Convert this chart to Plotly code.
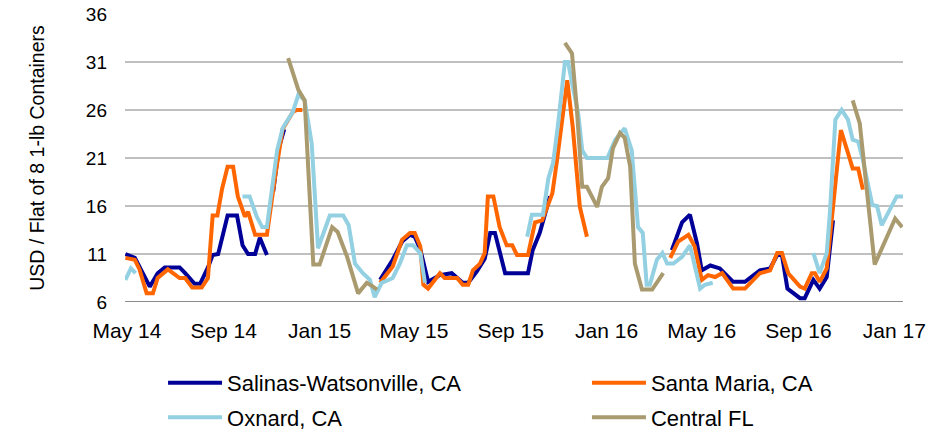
import plotly.graph_objects as go

# ---------------- data ----------------
series_names = ["Salinas-Watsonville, CA", "Santa Maria, CA", "Oxnard, CA", "Central FL"]

salinas_dates = [
    "2014-04-29", "2014-05-11", "2014-05-30", "2014-06-09", "2014-06-18", "2014-07-07", "2014-07-14",
    "2014-07-26", "2014-08-02", "2014-08-12", "2014-08-18", "2014-08-25", "2014-09-06", "2014-09-18",
    "2014-09-25", "2014-10-02", "2014-10-11", "2014-10-17", "2014-10-26",
    "2014-10-30",
    "2014-11-03", "2014-11-10", "2014-11-17",
    "2015-01-01",
    "2015-03-19", "2015-04-04", "2015-04-16", "2015-04-26", "2015-05-02", "2015-05-09", "2015-05-19",
    "2015-06-03", "2015-06-18", "2015-07-02", "2015-07-09", "2015-07-20", "2015-07-30", "2015-08-06",
    "2015-08-12", "2015-08-25", "2015-09-23", "2015-09-29", "2015-10-08", "2015-10-21",
    "2016-01-01",
    "2016-03-24", "2016-04-06", "2016-04-16", "2016-04-25", "2016-05-01", "2016-05-12", "2016-05-24",
    "2016-06-10", "2016-06-25", "2016-07-14", "2016-07-27", "2016-08-05", "2016-08-11", "2016-08-18",
    "2016-09-03", "2016-09-09", "2016-09-20", "2016-09-28", "2016-10-07", "2016-10-15",
]
salinas_values = [
    11.0, 10.6, 7.6, 9.0, 9.6, 9.6, 9.0, 7.9, 7.9, 9.6, 10.9, 11.0, 15.0, 15.0, 11.9, 11.0, 11.0, 12.7, 10.9,
    None,
    17.5, 22.0, 24.0,
    None,
    8.3, 10.4, 12.3, 13.0, 12.8, 11.5, 8.1, 8.8, 9.0, 8.0, 8.0, 9.2, 10.5, 13.2, 13.2, 9.0, 9.0, 11.4, 13.2, 17.0,
    None,
    11.4, 14.3, 15.1, 12.1, 9.3, 9.8, 9.5, 8.1, 8.1, 9.3, 9.5, 10.9, 10.9, 7.4, 6.4, 6.4, 8.3, 7.4, 8.6, 14.5,
]

santa_maria_dates = [
    "2014-04-29", "2014-05-11", "2014-05-17", "2014-05-26", "2014-06-03", "2014-06-09", "2014-06-22",
    "2014-07-07", "2014-07-14", "2014-07-23", "2014-08-04", "2014-08-12", "2014-08-18", "2014-08-24",
    "2014-08-30", "2014-09-06", "2014-09-13", "2014-09-19", "2014-09-28", "2014-10-02", "2014-10-11",
    "2014-10-26", "2014-11-06", "2014-11-15", "2014-11-28", "2014-12-03", "2014-12-10",
    "2015-01-01",
    "2015-03-19", "2015-04-04", "2015-04-16", "2015-04-26", "2015-05-02", "2015-05-09", "2015-05-13",
    "2015-05-19", "2015-06-03", "2015-06-09", "2015-06-25", "2015-07-02", "2015-07-09", "2015-07-15",
    "2015-07-24", "2015-07-30", "2015-08-03", "2015-08-10", "2015-08-18", "2015-08-27", "2015-09-03",
    "2015-09-09", "2015-09-23", "2015-10-02", "2015-10-11", "2015-10-24", "2015-10-30", "2015-11-05",
    "2015-11-12", "2015-11-19", "2015-11-28", "2015-12-07",
    "2016-01-01",
    "2016-03-22", "2016-04-01", "2016-04-14", "2016-04-22", "2016-05-01", "2016-05-09", "2016-05-18",
    "2016-05-27", "2016-06-10", "2016-06-25", "2016-07-14", "2016-07-27", "2016-08-05", "2016-08-11",
    "2016-08-19", "2016-08-25", "2016-09-03", "2016-09-09", "2016-09-18", "2016-09-22", "2016-09-28",
    "2016-10-07", "2016-10-15", "2016-10-25", "2016-11-02", "2016-11-09", "2016-11-16", "2016-11-22",
]
santa_maria_values = [
    10.6, 10.4, 9.4, 6.9, 6.9, 8.5, 9.4, 8.5, 8.5, 7.5, 7.5, 8.5, 15.0, 15.0, 17.8, 20.1, 20.1, 17.0, 14.9,
    15.4, 13.0, 13.0, 19.4, 24.0, 25.8, 26.0, 26.0,
    None,
    8.0, 9.7, 12.5, 13.2, 13.2, 11.8, 7.8, 7.4, 9.0, 8.5, 8.5, 7.8, 7.8, 9.3, 10.0, 11.1, 17.0, 17.0,
    13.8, 11.9, 11.9, 10.9, 10.9, 14.3, 14.5, 17.3, 20.8, 24.3, 29.1, 24.2, 15.9, 12.8,
    None,
    10.6, 12.3, 13.0, 11.8, 8.3, 8.8, 8.6, 9.0, 7.4, 7.4, 9.0, 9.3, 11.1, 11.1, 9.0, 8.5, 7.6, 7.4,
    9.0, 9.0, 8.1, 9.5, 15.9, 23.9, 21.8, 19.9, 19.9, 17.7,
]

oxnard_dates = [
    "2014-04-29", "2014-05-06", "2014-05-12",
    "2014-07-01",
    "2014-09-25", "2014-10-04", "2014-10-13", "2014-10-20", "2014-10-26", "2014-11-08", "2014-11-15",
    "2014-11-28", "2014-12-05", "2014-12-13", "2014-12-22", "2014-12-30", "2015-01-14", "2015-01-31",
    "2015-02-07", "2015-02-15", "2015-02-25", "2015-03-06", "2015-03-12", "2015-03-21", "2015-04-04",
    "2015-04-13", "2015-04-22", "2015-04-30", "2015-05-09", "2015-05-15",
    "2015-07-01",
    "2015-09-22", "2015-09-28", "2015-10-12", "2015-10-19", "2015-10-25", "2015-10-31", "2015-11-09",
    "2015-11-13", "2015-11-19", "2015-11-26", "2015-12-01", "2015-12-07", "2016-01-02", "2016-01-12",
    "2016-01-24", "2016-02-02", "2016-02-10", "2016-02-16", "2016-02-21", "2016-02-25", "2016-03-05",
    "2016-03-12", "2016-03-18", "2016-03-26", "2016-04-06", "2016-04-16", "2016-04-29", "2016-05-05",
    "2016-05-15",
    "2016-07-01",
    "2016-09-20", "2016-09-28", "2016-10-07", "2016-10-11", "2016-10-18", "2016-10-26", "2016-11-03",
    "2016-11-09", "2016-11-16", "2016-11-22", "2016-12-04", "2016-12-10", "2016-12-16", "2017-01-04",
    "2017-01-12",
]
oxnard_values = [
    8.3, 9.5, 9.0,
    None,
    17.0, 17.0, 14.9, 13.8, 13.8, 21.8, 24.1, 25.8, 27.6, 27.0, 22.5, 11.6, 15.0, 15.0, 14.0, 10.0,
    9.0, 8.3, 6.5, 8.0, 8.5, 10.0, 11.9, 11.9, 11.1, 8.0,
    None,
    12.8, 15.1, 15.1, 18.9, 20.5, 24.3, 31.0, 31.0, 28.4, 25.6, 21.8, 21.0, 21.0, 22.9, 24.1, 21.8,
    13.8, 13.2, 7.8, 7.8, 10.4, 11.1, 10.0, 10.0, 10.7, 11.9, 7.4, 7.8, 8.0,
    None,
    11.1, 9.0, 11.1, 15.3, 25.0, 26.0, 25.0, 22.9, 22.7, 20.8, 16.1, 16.0, 14.0, 17.0, 17.0,
]

central_fl_dates = [
    "2014-11-22", "2014-12-05", "2014-12-13", "2014-12-24", "2015-01-01", "2015-01-17", "2015-01-24",
    "2015-02-05", "2015-02-19", "2015-03-02", "2015-03-10", "2015-03-15",
    "2015-07-01",
    "2015-11-09", "2015-11-18", "2015-11-24", "2015-12-01", "2015-12-07", "2015-12-20", "2015-12-26",
    "2016-01-03", "2016-01-09", "2016-01-18", "2016-01-24", "2016-01-31", "2016-02-06", "2016-02-15",
    "2016-02-28", "2016-03-13",
    "2016-07-01",
    "2016-11-09", "2016-11-18", "2016-12-07", "2017-01-02", "2017-01-11",
]
central_fl_values = [
    31.4, 28.1, 27.0, 9.9, 9.9, 13.8, 13.3, 10.7, 6.9, 8.0, 7.6, 7.3,
    None,
    33.0, 31.9, 26.3, 18.0, 18.0, 15.9, 18.0, 18.9, 22.0, 23.6, 23.1, 20.1, 10.0, 7.3, 7.3, 9.0,
    None,
    27.0, 24.6, 9.9, 14.7, 13.8,
]

x_tick_dates = ["2014-05-01", "2014-09-01", "2015-01-01", "2015-05-01", "2015-09-01",
                "2016-01-01", "2016-05-01", "2016-09-01", "2017-01-01"]
x_tick_labels = ["May 14", "Sep 14", "Jan 15", "May 15", "Sep 15", "Jan 16", "May 16", "Sep 16", "Jan 17"]
y_ticks = [6, 11, 16, 21, 26, 31, 36]
y_title = "USD / Flat of 8 1-lb Containers"

# ---------------- figure ----------------
colors = ["#000099", "#FF6600", "#92D0E2", "#A99B6F"]
legend_ids = ["legend", "legend2", "legend", "legend2"]
all_dates = [salinas_dates, santa_maria_dates, oxnard_dates, central_fl_dates]
all_values = [salinas_values, santa_maria_values, oxnard_values, central_fl_values]

FONT = "Liberation Sans, Arial, sans-serif"

fig = go.Figure()
for name, d, v, c, lg in zip(series_names, all_dates, all_values, colors, legend_ids):
    fig.add_trace(go.Scatter(
        x=d, y=v, name=name, mode="lines",
        line=dict(color=c, width=4),
        connectgaps=False, legend=lg, legendgroup=name,
    ))

legend_common = dict(
    orientation="v", xanchor="left", y=-0.208, yanchor="top",
    font=dict(size=22), itemwidth=54, tracegroupgap=3, traceorder="grouped",
    bgcolor="rgba(0,0,0,0)", borderwidth=0,
)

fig.update_layout(
    width=930, height=430,
    margin=dict(l=125, r=27, t=14, b=128, autoexpand=False),
    plot_bgcolor="white", paper_bgcolor="white",
    font=dict(family=FONT, color="#000000", size=19),
    legend=dict(x=0.0489, **legend_common),
    legend2=dict(x=0.5938, **legend_common),
    showlegend=True,
)
fig.update_xaxes(
    type="date", range=["2014-04-28 12:00", "2017-01-12"],
    tickvals=x_tick_dates, ticktext=x_tick_labels,
    showgrid=False, zeroline=False,
    showline=False, ticks="", ticklabelstandoff=14,
    tickfont=dict(size=21),
)
fig.update_yaxes(
    range=[6, 36], tickvals=y_ticks,
    showgrid=True, gridcolor="#C0C0C0", gridwidth=2,
    zeroline=False, showline=False, ticks="", ticklabelstandoff=17,
    tickfont=dict(size=19),
    title=dict(text=y_title, font=dict(size=19.5), standoff=36),
)
# darker baseline at the bottom of the plot
fig.add_hline(y=6, line=dict(color="#8C8C8C", width=2), layer="below")

# remove the browser's default page margin so the 930x430 figure fills the window
fig.write_html(
    "out.html",
    config={"displayModeBar": False},
    post_script="document.body.style.margin='0';document.body.style.overflow='hidden';",
)
